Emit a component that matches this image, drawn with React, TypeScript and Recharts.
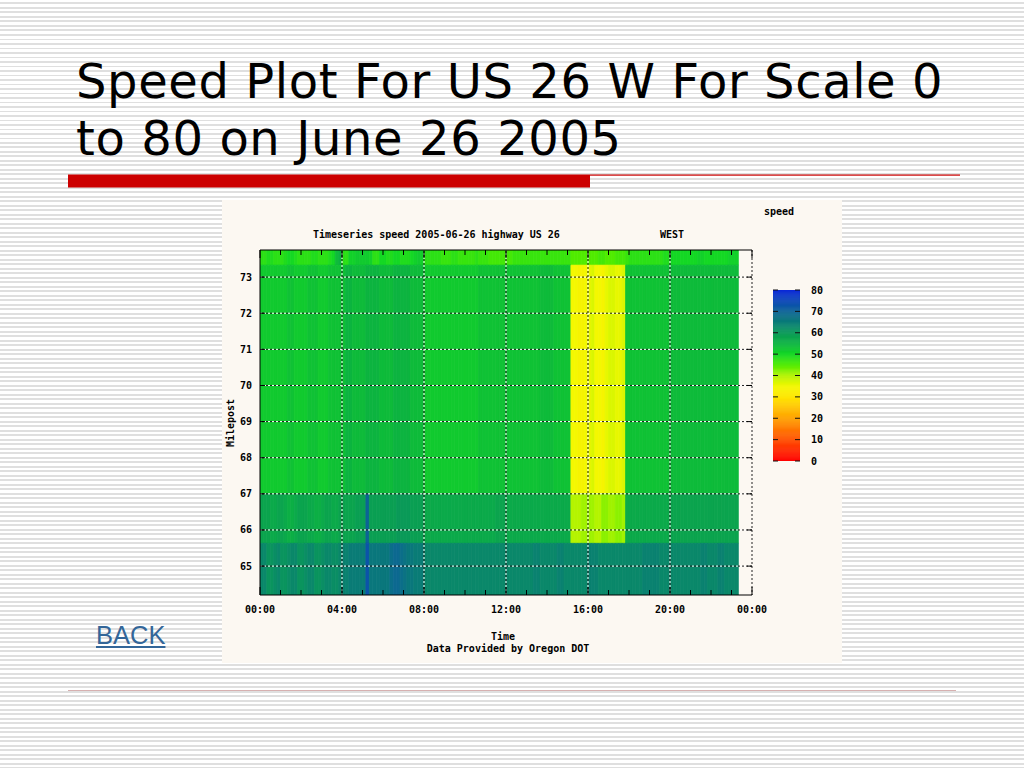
import React from "react";
import { ComposedChart, XAxis, YAxis, ReferenceArea, ReferenceLine } from "recharts";

// ---------- data ----------
const STEP_MIN = 10; // each column = 10 minutes
const ROW_EDGES = [73.75, 73.33, 67.0, 65.63, 64.2]; // milepost edges of the 4 detector rows (top -> bottom)

// speeds (mph) per 10-minute column, 00:00 .. 23:10
const ROW_A = [
  48, 48, 49, 49, 48, 48, 48, 49, 50, 50, 49, 48, 48, 48, 48, 49, 49, 48, 48, 48, 49, 50, 54, 55,
  48, 48, 51, 51, 52, 52, 52, 52, 51, 48, 48, 50, 50, 49, 49, 50, 50, 49, 49, 49, 50, 51, 52, 51,
  48, 48, 48, 48, 48, 47, 47, 47, 48, 48, 47, 47, 47, 47, 47, 48, 47, 47, 47, 46, 46, 46, 46, 46,
  46, 46, 47, 47, 47, 47, 47, 47, 47, 47, 47, 47, 47, 47, 47, 47, 47, 47, 47, 45, 45, 45, 45, 45,
  45, 45, 45, 46, 46, 45, 45, 45, 46, 46, 46, 47, 48, 48, 48, 48, 48, 48, 48, 48, 48, 48, 49, 49,
  50, 50, 50, 50, 50, 50, 50, 50, 51, 51, 50, 50, 50, 50, 50, 50, 50, 51, 51, 51,
];
const ROW_B = [
  52, 52, 52, 52, 52, 52, 52, 52, 53, 53, 52, 52, 52, 52, 53, 53, 53, 52, 52, 52, 53, 53, 53, 53,
  53, 55, 55, 54, 54, 54, 54, 55, 55, 55, 55, 54, 54, 54, 54, 55, 55, 55, 55, 55, 54, 54, 54, 54,
  52, 52, 52, 52, 52, 52, 52, 52, 52, 52, 52, 52, 52, 52, 52, 52, 53, 53, 53, 53, 53, 53, 53, 53,
  53, 53, 53, 53, 53, 53, 53, 53, 53, 53, 54, 54, 54, 54, 53, 53, 53, 53, 53, 35, 35, 34, 34, 35,
  36, 37, 35, 35, 34, 36, 37, 37, 36, 36, 37, 53, 53, 53, 53, 53, 53, 53, 53, 53, 53, 53, 53, 53,
  54, 54, 54, 54, 54, 54, 54, 54, 54, 54, 54, 54, 54, 54, 54, 54, 54, 54, 54, 54,
];
const ROW_C = [
  58, 58, 58, 57, 57, 58, 58, 57, 56, 56, 57, 58, 58, 58, 57, 57, 56, 56, 57, 58, 58, 57, 57, 58,
  58, 58, 58, 58, 59, 59, 59, 70, 59, 59, 59, 59, 59, 59, 59, 59, 60, 60, 60, 60, 59, 59, 59, 59,
  57, 57, 57, 57, 57, 57, 57, 57, 57, 57, 57, 57, 57, 57, 57, 57, 57, 57, 57, 57, 57, 58, 58, 58,
  57, 57, 57, 57, 57, 57, 57, 57, 57, 57, 57, 57, 57, 57, 57, 57, 57, 57, 57, 40, 40, 40, 41, 41,
  41, 41, 40, 40, 42, 42, 41, 41, 42, 42, 41, 57, 57, 57, 57, 57, 57, 57, 57, 57, 57, 57, 57, 57,
  58, 58, 58, 58, 58, 58, 58, 58, 58, 58, 58, 58, 58, 58, 58, 58, 58, 58, 58, 58,
];
const ROW_D = [
  63, 63, 61, 61, 62, 63, 61, 61, 62, 63, 63, 61, 61, 62, 63, 63, 61, 61, 62, 63, 63, 62, 62, 63,
  64, 64, 65, 65, 65, 65, 65, 73, 66, 66, 66, 66, 66, 66, 68, 69, 69, 68, 67, 66, 66, 65, 65, 65,
  63, 63, 63, 63, 63, 63, 63, 63, 63, 63, 63, 63, 63, 63, 63, 63, 63, 63, 63, 63, 63, 63, 63, 63,
  63, 63, 63, 63, 63, 63, 63, 63, 64, 64, 63, 63, 63, 63, 63, 64, 64, 63, 63, 63, 63, 63, 63, 63,
  64, 64, 64, 63, 63, 63, 63, 63, 63, 63, 63, 63, 63, 63, 63, 63, 64, 64, 64, 64, 64, 63, 63, 63,
  63, 63, 63, 63, 63, 63, 63, 63, 63, 64, 64, 63, 63, 63, 64, 64, 63, 63, 63, 63,
];
const ROWS = [ROW_A, ROW_B, ROW_C, ROW_D];

const HOUR_TICKS = [0, 1, 2, 3, 4, 5, 6, 7, 8, 9, 10, 11, 12, 13, 14, 15, 16, 17, 18, 19, 20, 21, 22, 23, 24];
const MAJOR_TICKS = [0, 4, 8, 12, 16, 20, 24];
const MAJOR_LABELS = ["00:00", "04:00", "08:00", "12:00", "16:00", "20:00", "00:00"];
const MILE_TICKS = [65, 66, 67, 68, 69, 70, 71, 72, 73];
const CBAR_TICKS = [0, 10, 20, 30, 40, 50, 60, 70, 80];

// colour scale
const SCALE_STOPS = [0, 10, 20, 30, 35, 40, 45, 50, 55, 60, 65, 70, 75, 80];
const SCALE_COLORS = [
  "#ff0000", "#ff5000", "#ffa000", "#ffe600", "#f4f800", "#b4f400", "#50ec00",
  "#14d824", "#0cb440", "#0a9a58", "#0a7c76", "#0c6496", "#0c48b8", "#0a28d8",
];

const COLS = ROW_A.map((_, i) => ({ t: (i * STEP_MIN) / 60 }));
const CBAR_SLICES = Array.from({ length: 160 }, (_, i) => i * 0.5);

function hex(c: string) {
  return [1, 3, 5].map((k) => parseInt(c.slice(k, k + 2), 16));
}
function speedColor(v: number) {
  if (v <= SCALE_STOPS[0]) return SCALE_COLORS[0];
  for (let i = 1; i < SCALE_STOPS.length; i++) {
    if (v <= SCALE_STOPS[i]) {
      const f = (v - SCALE_STOPS[i - 1]) / (SCALE_STOPS[i] - SCALE_STOPS[i - 1]);
      const a = hex(SCALE_COLORS[i - 1]);
      const b = hex(SCALE_COLORS[i]);
      const m = a.map((x, k) => Math.round(x + (b[k] - x) * f));
      return `rgb(${m[0]},${m[1]},${m[2]})`;
    }
  }
  return SCALE_COLORS[SCALE_COLORS.length - 1];
}

// ---------- styles ----------
const MONO = "'DejaVu Sans Mono', 'Liberation Mono', monospace";
const tickText: React.CSSProperties = { fontFamily: MONO, fontWeight: 700, fontSize: 10, fill: "#000" };

const BottomTick = (p: any) => {
  const { x, y, payload } = p;
  const idx = MAJOR_TICKS.indexOf(payload.value);
  const major = idx >= 0;
  return (
    <g>
      <line x1={x} x2={x} y1={y} y2={y - (major ? 8 : 5)} stroke="#000" strokeWidth={1} />
      {major && (
        <text x={x} y={y + 14} dy="0.35em" textAnchor="middle" style={tickText}>
          {MAJOR_LABELS[idx]}
        </text>
      )}
    </g>
  );
};
const TopTick = (p: any) => {
  const { x, y, payload } = p;
  const major = MAJOR_TICKS.indexOf(payload.value) >= 0;
  return <line x1={x} x2={x} y1={y} y2={y + (major ? 8 : 5)} stroke="#000" strokeWidth={1} />;
};
const LeftTick = (p: any) => {
  const { x, y, payload } = p;
  return (
    <g>
      <line x1={x} x2={x + 5} y1={y} y2={y} stroke="#000" strokeWidth={1} />
      <text x={x - 8} y={y} dy="0.35em" textAnchor="end" style={tickText}>
        {payload.value}
      </text>
    </g>
  );
};
const RightTick = (p: any) => {
  const { x, y } = p;
  return <line x1={x - 5} x2={x} y1={y} y2={y} stroke="#000" strokeWidth={1} />;
};
const CbarLeftTick = (p: any) => {
  const { x, y } = p;
  return <line x1={x} x2={x + 5} y1={y} y2={y} stroke="#111" strokeWidth={1} />;
};
const CbarRightTick = (p: any) => {
  const { x, y, payload } = p;
  return (
    <g>
      <line x1={x - 5} x2={x} y1={y} y2={y} stroke="#111" strokeWidth={1} />
      <text x={x + 11} y={y} dy="0.35em" textAnchor="start" style={tickText}>
        {payload.value}
      </text>
    </g>
  );
};

function Txt(props: { x: number; y: number; anchor?: "start" | "middle"; children: React.ReactNode }) {
  const { x, y, anchor = "start", children } = props;
  return (
    <div
      style={{
        position: "absolute",
        left: x,
        top: y,
        transform: `translate(${anchor === "middle" ? "-50%" : "0"}, -50%)`,
        fontFamily: MONO,
        fontWeight: 700,
        fontSize: 10,
        lineHeight: "10px",
        whiteSpace: "pre",
        color: "#000",
      }}
    >
      {children}
    </div>
  );
}

function Heatmap() {
  const cells: React.ReactNode[] = [];
  ROWS.forEach((row, r) => {
    row.forEach((v, i) => {
      const c = speedColor(v);
      cells.push(
        <ReferenceArea
          key={`c-${r}-${i}`}
          xAxisId="b"
          yAxisId="l"
          x1={COLS[i].t}
          x2={COLS[i].t + STEP_MIN / 60}
          y1={ROW_EDGES[r + 1]}
          y2={ROW_EDGES[r]}
          fill={c}
          fillOpacity={1}
          stroke={c}
          strokeWidth={0.8}
          ifOverflow="hidden"
        />
      );
    });
  });
  const grid: React.ReactNode[] = [];
  MILE_TICKS.forEach((m) => {
    grid.push(<ReferenceLine key={`hw${m}`} xAxisId="b" yAxisId="l" y={m} stroke="#ffffff" strokeDasharray="2 2" />);
    grid.push(<ReferenceLine key={`hk${m}`} xAxisId="b" yAxisId="l" y={m} stroke="#222" strokeDasharray="0 2 2 0" />);
  });
  [4, 8, 12, 16, 20].forEach((h) => {
    grid.push(<ReferenceLine key={`vw${h}`} xAxisId="b" yAxisId="l" x={h} stroke="#ffffff" strokeDasharray="2 2" />);
    grid.push(<ReferenceLine key={`vk${h}`} xAxisId="b" yAxisId="l" x={h} stroke="#222" strokeDasharray="0 2 2 0" />);
  });
  return (
    <ComposedChart width={620} height={463} data={COLS} margin={{ top: 45, right: 80, bottom: 38, left: 8 }}>
      <XAxis
        xAxisId="b"
        dataKey="t"
        type="number"
        domain={[0, 24]}
        allowDataOverflow
        ticks={HOUR_TICKS}
        interval={0}
        height={30}
        tickSize={0}
        tickMargin={0}
        tickLine={false}
        axisLine={{ stroke: "#000" }}
        tick={BottomTick}
      />
      <XAxis
        xAxisId="t"
        dataKey="t"
        orientation="top"
        type="number"
        domain={[0, 24]}
        allowDataOverflow
        ticks={HOUR_TICKS}
        interval={0}
        height={5}
        tickSize={0}
        tickMargin={0}
        tickLine={false}
        axisLine={{ stroke: "#000" }}
        tick={TopTick}
      />
      <YAxis
        yAxisId="l"
        type="number"
        domain={[64.2, 73.75]}
        allowDataOverflow
        ticks={MILE_TICKS}
        interval={0}
        width={30}
        tickSize={0}
        tickMargin={0}
        tickLine={false}
        axisLine={{ stroke: "#000" }}
        tick={LeftTick}
      />
      <YAxis
        yAxisId="r"
        orientation="right"
        type="number"
        domain={[64.2, 73.75]}
        allowDataOverflow
        ticks={MILE_TICKS}
        interval={0}
        width={10}
        tickSize={0}
        tickMargin={0}
        tickLine={false}
        axisLine={{ stroke: "#222", strokeDasharray: "2 2" }}
        tick={RightTick}
      />
      {cells}
      {grid}
    </ComposedChart>
  );
}

function ColorBar() {
  return (
    <ComposedChart width={80} height={195} data={[{ x: 0 }, { x: 1 }]} margin={{ top: 10, right: 10, bottom: 13, left: 0 }}>
      <XAxis
        xAxisId="x"
        dataKey="x"
        type="number"
        domain={[0, 1]}
        allowDataOverflow
        height={1}
        tick={false}
        tickLine={false}
        axisLine={false}
      />
      <YAxis
        yAxisId="l"
        type="number"
        domain={[0, 80]}
        allowDataOverflow
        ticks={CBAR_TICKS}
        interval={0}
        width={13}
        tickSize={0}
        tickMargin={0}
        tickLine={false}
        axisLine={false}
        tick={CbarLeftTick}
      />
      <YAxis
        yAxisId="r"
        orientation="right"
        type="number"
        domain={[0, 80]}
        allowDataOverflow
        ticks={CBAR_TICKS}
        interval={0}
        width={30}
        tickSize={0}
        tickMargin={0}
        tickLine={false}
        axisLine={false}
        tick={CbarRightTick}
      />
      {CBAR_SLICES.map((s) => {
        const c = speedColor(s + 0.25);
        return (
          <ReferenceArea
            key={s}
            xAxisId="x"
            yAxisId="l"
            x1={0}
            x2={1}
            y1={s}
            y2={s + 0.5}
            fill={c}
            fillOpacity={1}
            stroke={c}
            strokeWidth={0.6}
            ifOverflow="hidden"
          />
        );
      })}
    </ComposedChart>
  );
}

export default function App() {
  return (
    <div
      style={{
        position: "absolute",
        left: 0,
        top: 0,
        width: 1024,
        height: 768,
        overflow: "hidden",
        background:
          "repeating-linear-gradient(to bottom, #ffffff 0px, #ffffff 2.5px, #dfdfdf 2.5px, #dfdfdf 4.5px)",
      }}
    >
      <svg width={1024} height={768} style={{ position: "absolute", left: 0, top: 0 }}>
        <text x={76} y={97.5} style={{ fontFamily: "'DejaVu Sans', Verdana, sans-serif", fontSize: 48, letterSpacing: 0.6, fill: "#000" }}>
          Speed Plot For US 26 W For Scale 0
        </text>
        <text x={76} y={154.5} style={{ fontFamily: "'DejaVu Sans', Verdana, sans-serif", fontSize: 48, letterSpacing: 0.6, fill: "#000" }}>
          to 80 on June 26 2005
        </text>
        <rect x={68} y={174.5} width={522} height={13} fill="#cc0000" />
        <rect x={590} y={174.5} width={370} height={1.2} fill="#cc0000" />
        <rect x={68} y={690} width={888} height={1} fill="#d6b0b0" />
      </svg>

      <a
        href="#"
        style={{
          position: "absolute",
          left: 96,
          top: 620,
          fontFamily: "'Liberation Sans', Arial, sans-serif",
          fontSize: 25.5,
          lineHeight: "30px",
          color: "#336699",
          textDecoration: "underline",
        }}
      >
        BACK
      </a>

      <div style={{ position: "absolute", left: 222, top: 200, width: 620, height: 463, background: "#fcf8f2" }}>
        <Heatmap />
      </div>
      <div style={{ position: "absolute", left: 760, top: 280 }}>
        <ColorBar />
      </div>

      <Txt x={764} y={212}>speed</Txt>
      <Txt x={313} y={235}>Timeseries speed 2005-06-26 highway US 26</Txt>
      <Txt x={660} y={235}>WEST</Txt>
      <Txt x={503} y={637} anchor="middle">Time</Txt>
      <Txt x={508} y={649} anchor="middle">Data Provided by Oregon DOT</Txt>
      <div
        style={{
          position: "absolute",
          left: 231,
          top: 423,
          transform: "translate(-50%, -50%) rotate(-90deg)",
          fontFamily: MONO,
          fontWeight: 700,
          fontSize: 10,
          lineHeight: "10px",
          color: "#000",
        }}
      >
        Milepost
      </div>
    </div>
  );
}
